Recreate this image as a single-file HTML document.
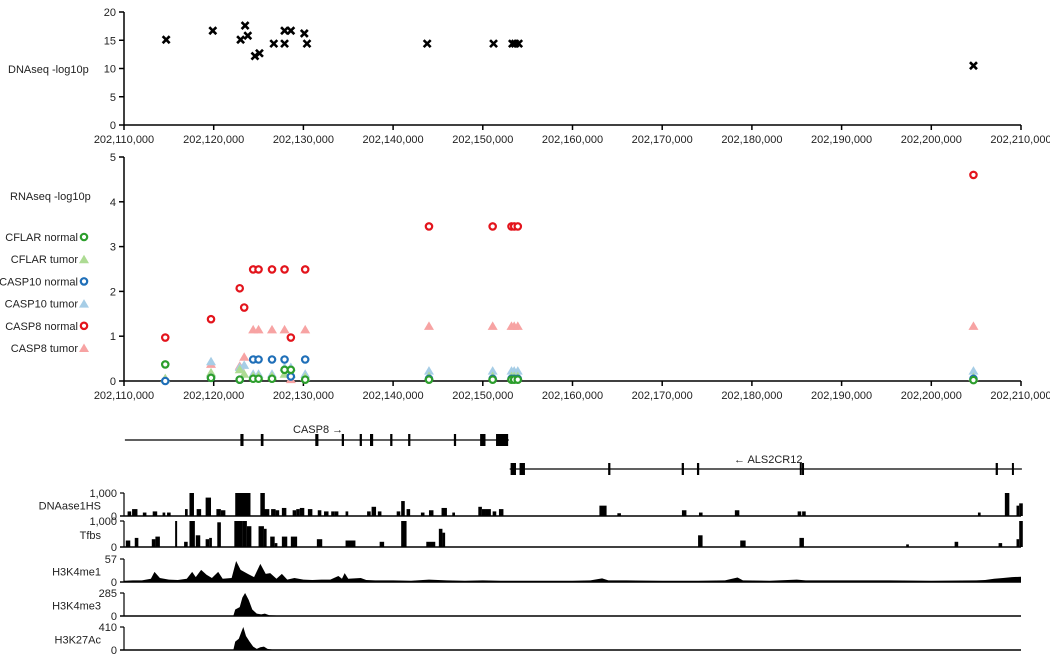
<!DOCTYPE html>
<html><head><meta charset="utf-8"><style>
body{margin:0;background:#fff;}
svg{display:block;font-family:"Liberation Sans",sans-serif;}
text{font-size:11px;fill:#222;}
</style></head><body>
<svg id="c" width="1050" height="656" viewBox="0 0 1050 656"></svg>
<script>
// ---- data ----
const xTicks = [110,120,130,140,150,160,170,180,190,200,210];
const xTickLabels = ["202,110,000","202,120,000","202,130,000","202,140,000","202,150,000","202,160,000","202,170,000","202,180,000","202,190,000","202,200,000","202,210,000"];
const dnaPos = [114.7,119.9,123.0,123.5,123.8,124.6,125.1,126.7,127.9,127.9,128.6,130.1,130.4,143.8,151.2,153.3,153.6,154.0,204.7];
const dnaVal = [15.1,16.7,15.1,17.6,15.8,12.2,12.7,14.4,16.7,14.4,16.7,16.2,14.4,14.4,14.4,14.4,14.4,14.4,10.5];
const dnaYTicks = [0,5,10,15,20];
const rnaYTicks = [0,1,2,3,4,5];
const rnaPos = [114.6,119.7,122.9,123.4,124.4,125.0,126.5,127.9,128.6,130.2,144.0,151.1,153.2,153.5,153.9,204.7];
const cflarNormal = [0.37,0.07,0.03,null,0.05,0.05,0.05,0.25,0.25,0.03,0.03,0.03,0.03,0.03,0.03,0.02];
const cflarTumor  = [0.05,0.18,0.25,0.15,0.1,0.1,0.1,0.15,0.15,0.08,0.1,0.1,0.1,0.1,0.1,0.08];
const casp10Normal= [0.0,0.07,0.03,null,0.48,0.48,0.48,0.48,0.1,0.48,0.05,0.05,0.05,0.05,0.05,0.05];
const casp10Tumor = [0.05,0.43,0.3,0.35,0.15,0.15,0.15,0.3,0.3,0.15,0.22,0.22,0.22,0.22,0.22,0.22];
const casp8Normal = [0.97,1.38,2.07,1.64,2.49,2.49,2.49,2.49,0.97,2.49,3.45,3.45,3.45,3.45,3.45,4.6];
const casp8Tumor  = [0.05,0.37,0.33,0.53,1.14,1.14,1.14,1.14,0.03,1.14,1.22,1.22,1.22,1.22,1.22,1.22];
const casp8Exons = [123.15,125.4,131.5,134.4,136.4,137.6,139.8,141.8,146.9,150.0,152.15];
const casp8ExonW = [0.35,0.3,0.35,0.25,0.25,0.35,0.25,0.25,0.25,0.6,1.35];
const alsExons = [153.4,154.4,164.1,172.3,174.0,185.45,185.7,207.3,209.1];
const alsExonW = [0.6,0.6,0.25,0.25,0.25,0.2,0.2,0.25,0.15];
const dhsPos = [110.4,110.9,112.1,113.2,114.3,114.8,116.8,117.3,118.1,119.1,120.3,120.8,122.4,125.2,125.6,126.4,126.9,127.6,128.8,129.2,129.6,130.5,131.6,132.3,133.1,133.5,134.7,137.1,137.6,138.3,140.4,140.9,141.5,143.1,144.0,145.4,146.6,149.5,149.9,150.3,151.1,151.8,163.0,165.0,172.2,174.1,178.1,185.1,185.6,205.2,208.2,209.5,209.8];
const dhsW   = [0.4,0.6,0.4,0.5,0.3,0.4,0.3,0.5,0.5,0.6,0.5,0.5,1.7,0.5,0.6,0.5,0.4,0.5,0.4,0.4,0.5,0.5,0.4,0.5,0.4,0.4,0.3,0.4,0.5,0.4,0.4,0.4,0.4,0.4,0.5,0.6,0.3,0.4,0.4,0.6,0.4,0.5,0.8,0.4,0.5,0.4,0.5,0.4,0.4,0.3,0.5,0.3,0.4];
const dhsVal = [0.2,0.3,0.15,0.2,0.15,0.15,0.3,1.0,0.3,0.8,0.3,0.25,1.0,1.0,0.3,0.3,0.25,0.35,0.25,0.3,0.35,0.3,0.25,0.2,0.2,0.2,0.2,0.2,0.4,0.2,0.2,0.65,0.3,0.15,0.25,0.35,0.15,0.4,0.3,0.3,0.2,0.3,0.45,0.12,0.25,0.15,0.25,0.2,0.2,0.15,1.0,0.45,0.55];
const tfbsPos = [110.2,111.2,113.1,113.5,115.7,116.7,117.3,118.0,119.1,119.5,120.4,122.3,123.2,123.7,125.0,125.6,126.3,126.8,127.6,128.6,131.5,134.7,138.5,140.9,143.7,145.1,145.5,174.0,178.7,185.3,197.2,202.6,207.5,209.5,209.8];
const tfbsW   = [0.5,0.4,0.4,0.5,0.2,0.4,0.6,0.5,0.4,0.3,0.4,0.9,0.5,0.5,0.6,0.3,0.5,0.3,0.6,0.7,0.6,1.1,0.5,0.6,1.0,0.4,0.3,0.5,0.6,0.5,0.3,0.4,0.4,0.3,0.4];
const tfbsVal = [0.25,0.35,0.3,0.4,1.0,0.2,1.0,0.45,0.3,0.35,0.95,1.0,1.0,0.8,0.8,0.7,0.4,0.15,0.4,0.4,0.3,0.25,0.2,1.0,0.2,0.7,0.55,0.45,0.25,0.35,0.1,0.2,0.15,0.3,1.0];
const k4me1Pos = [110,111,112,113,113.4,114,115,116,117,117.6,118,118.6,119.2,119.8,120.5,121,122,122.5,123,123.8,124.5,125.2,125.8,126.3,127,127.6,128.2,129,130,131,132,133,133.9,134.3,134.6,135,136.4,137,138,140,142,144,146,148,150,152,154,156,158,160,162,163.3,164,166,170,174,177,178.4,179,182,185,186,190,195,200,205,206,207,208,209,210];
const k4me1Val = [3,4,4,8,25,10,6,5,8,25,12,30,18,10,25,8,10,52,30,20,12,45,20,22,8,20,6,10,6,5,6,6,15,8,22,8,10,5,4,4,3,6,4,3,4,3,3,3,3,3,4,9,4,4,3,3,4,11,4,3,6,4,4,4,3,4,5,8,10,12,13];
const k4me3Pos = [110,122.2,122.4,122.9,123.2,123.5,123.9,124.3,124.8,125.3,125.7,126.2,127,210];
const k4me3Val = [6,6,80,110,230,285,200,80,30,20,30,10,6,6];
const k27Pos = [110,122.2,122.4,122.8,123.1,123.3,123.6,124.0,124.4,124.8,125.2,125.6,126.0,126.5,210];
const k27Val = [8,8,150,200,330,410,250,150,60,20,50,60,20,8,8];
const legendNames = ["CFLAR normal","CFLAR tumor","CASP10 normal","CASP10 tumor","CASP8 normal","CASP8 tumor"];

// ---- drawing ----
const svg = document.getElementById('c');
const NS = 'http://www.w3.org/2000/svg';
function mk(tag, attrs, parent){const e=document.createElementNS(NS,tag);for(const k in attrs)e.setAttribute(k,attrs[k]);(parent||svg).appendChild(e);return e;}
function txt(s,x,y,anchor,parent){const t=mk('text',{x:x,y:y,'text-anchor':anchor||'start'},parent);t.textContent=s;return t;}
const X0=124, PX=8.97;
function xs(kb){return X0+(kb-110)*PX;}
const yD=v=>125-v*5.65;
const yR=v=>381-v*44.8;

function xAxis(yAxis,labelY,name){
  const g=mk('g',{});
  
  
  mk('line',{x1:X0,y1:yAxis,x2:xs(210),y2:yAxis,stroke:'#000','stroke-width':1.5},g);
  xTicks.forEach((t,i)=>{
    mk('line',{x1:xs(t),y1:yAxis,x2:xs(t),y2:yAxis+5,stroke:'#000','stroke-width':1.5},g);
    txt(xTickLabels[i],xs(t),labelY,'middle',g);
  });
}
function yAxis(ticks,yf,top,bottom,name){
  const g=mk('g',{});
  
  
  mk('line',{x1:X0,y1:top,x2:X0,y2:bottom,stroke:'#000','stroke-width':1.5},g);
  ticks.forEach(t=>{
    mk('line',{x1:X0-5,y1:yf(t),x2:X0,y2:yf(t),stroke:'#000','stroke-width':1.5},g);
    txt(String(t),X0-8,yf(t)+4,'end',g);
  });
}
// DNA panel
yAxis(dnaYTicks,yD,yD(20),125,'dnaseq-y-axis');
xAxis(125,143,'dnaseq-x-axis');
const dt=txt('DNAseq -log10p',8,73);


dnaPos.forEach((p,i)=>{
  const x=xs(p),y=yD(dnaVal[i]),s=3.5;
  const m=mk('path',{d:`M${x-s},${y-s}L${x+s},${y+s}M${x-s},${y+s}L${x+s},${y-s}`,stroke:'#000','stroke-width':2.6});
  
  
});
// RNA panel
yAxis(rnaYTicks,yR,yR(5),381,'rnaseq-y-axis');
xAxis(381,399,'rnaseq-x-axis');
const rt=txt('RNAseq -log10p',10,200);


function circle(x,y,c,parent){return mk('circle',{cx:x,cy:y,r:3.2,fill:'#fff',stroke:c,'stroke-width':2.2},parent);}
function tri(x,y,c,parent){return mk('path',{d:`M${x},${y-5}L${x+5},${y+3.5}L${x-5},${y+3.5}Z`,fill:c},parent);}
const series=[
  {v:casp8Tumor,c:'#f7a3a3',t:'tri',n:'casp8-tumor-point'},
  {v:casp10Tumor,c:'#a6cde6',t:'tri',n:'casp10-tumor-point'},
  {v:cflarTumor,c:'#addb93',t:'tri',n:'cflar-tumor-point'},
  {v:casp10Normal,c:'#1f6fb8',t:'circ',n:'casp10-normal-point'},
  {v:cflarNormal,c:'#2c9e2c',t:'circ',n:'cflar-normal-point'},
  {v:casp8Normal,c:'#e3141c',t:'circ',n:'casp8-normal-point'}
];
series.forEach(s=>{
  s.v.forEach((v,i)=>{
    if(v===null)return;
    const el=s.t==='tri'?tri(xs(rnaPos[i]),yR(v),s.c):circle(xs(rnaPos[i]),yR(v),s.c);
    
    
  });
});
// legend
const legCols=['#2c9e2c','#addb93','#1f6fb8','#a6cde6','#e3141c','#f7a3a3'];
const legTypes=['circ','tri','circ','tri','circ','tri'];
legendNames.forEach((n,i)=>{
  const y=237+i*22.2;
  const g=mk('g',{});
  
  
  txt(n,78,y+4,'end',g);
  if(legTypes[i]==='circ')circle(84,y,legCols[i],g);else tri(84,y+0.5,legCols[i],g);
});
// gene tracks
function gene(y,start,end,exons,widths,name){
  const g=mk('g',{});
  
  
  mk('line',{x1:xs(start),y1:y,x2:xs(end),y2:y,stroke:'#000','stroke-width':1.2},g);
  exons.forEach((e,i)=>{
    const w=Math.max(2,widths[i]*PX);
    mk('rect',{x:xs(e)-w/2,y:y-6,width:w,height:12,fill:'#000'},g);
  });
  return g;
}
const g1=gene(440,110.1,152.9,casp8Exons,casp8ExonW,'casp8-gene');
txt('CASP8 \u2192',293,433,'start',g1);
const g2=gene(469,153.0,210.1,alsExons,alsExonW,'als2cr12-gene');
txt('\u2190 ALS2CR12',734,463,'start',g2);
// signal tracks
function trackAxis(base,top,topLabel,label,name){
  const g=mk('g',{});
  
  
  mk('line',{x1:X0,y1:top,x2:X0,y2:base,stroke:'#000','stroke-width':1.2},g);
  mk('line',{x1:X0-4,y1:top,x2:X0,y2:top,stroke:'#000','stroke-width':1.2},g);
  mk('line',{x1:X0-4,y1:base,x2:xs(210),y2:base,stroke:'#000','stroke-width':1.5},g);
  txt(topLabel,X0-7,top+4,'end',g);
  txt('0',X0-7,base+4,'end',g);
  txt(label,101,(base+top)/2+5,'end',g);
  return g;
}
function bars(pos,w,val,base,h,max,name){
  const g=mk('g',{});
  
  
  pos.forEach((p,i)=>{
    const bh=val[i]/max*h;
    mk('rect',{x:xs(p),y:base-bh,width:Math.max(2,w[i]*PX),height:bh,fill:'#000'},g);
  });
}
function area(pos,val,base,h,max,name){
  let d=`M${xs(pos[0])},${base}`;
  pos.forEach((p,i)=>{d+=`L${xs(p)},${base-val[i]/max*h}`;});
  d+=`L${xs(pos[pos.length-1])},${base}Z`;
  const p=mk('path',{d:d,fill:'#000'});
  
  
}
trackAxis(516,493,'1,000','DNAase1HS','dnase-track-axis');
bars(dhsPos,dhsW,dhsVal,516,23,1,'dnase-bars');
trackAxis(547,521,'1,000','Tfbs','tfbs-track-axis');
bars(tfbsPos,tfbsW,tfbsVal,547,26,1,'tfbs-bars');
trackAxis(582,559,'57','H3K4me1','h3k4me1-track-axis');
area(k4me1Pos,k4me1Val,582,23,57,'h3k4me1-signal');
trackAxis(616,593,'285','H3K4me3','h3k4me3-track-axis');
area(k4me3Pos,k4me3Val,616,23,285,'h3k4me3-signal');
trackAxis(650,627,'410','H3K27Ac','h3k27ac-track-axis');
area(k27Pos,k27Val,650,23,410,'h3k27ac-signal');
</script>
</body></html>
